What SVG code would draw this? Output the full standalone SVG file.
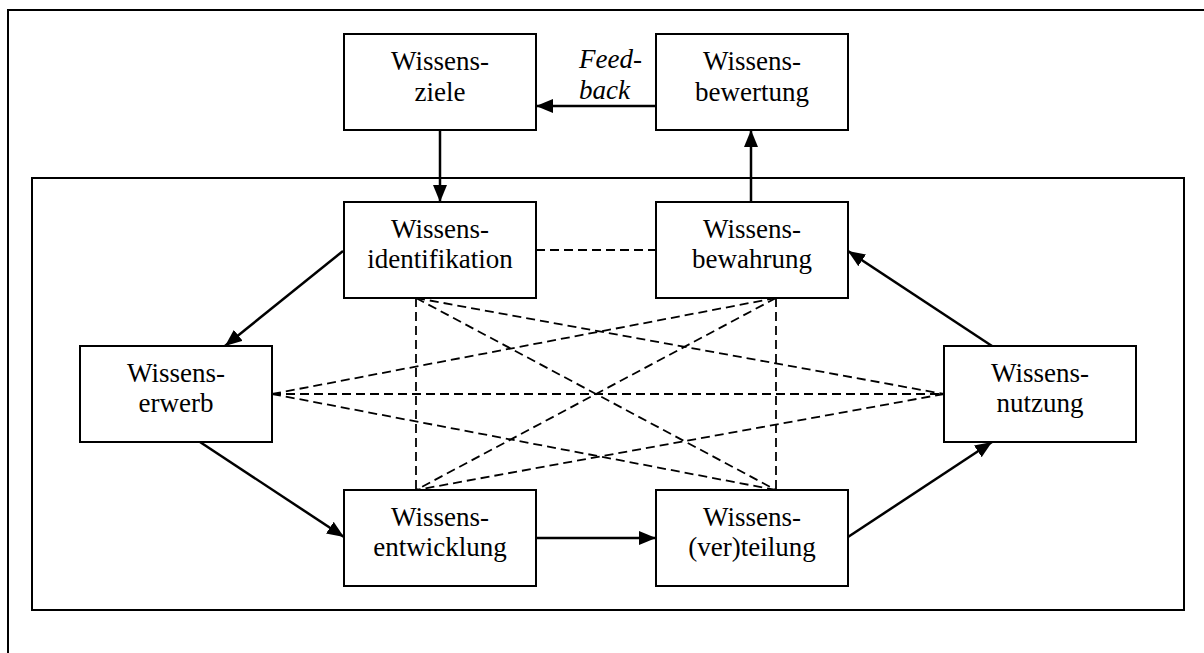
<svg xmlns="http://www.w3.org/2000/svg" width="1204" height="653" viewBox="0 0 1204 653">
  <style>
    .frame { fill: none; stroke: #000; stroke-width: 2; }
    .box { fill: #fff; stroke: #000; stroke-width: 2; }
    .label { font-family: "Liberation Serif", "Times New Roman", serif; font-size: 27px; fill: #000; text-anchor: middle; }
    .note { font-family: "Liberation Serif", "Times New Roman", serif; font-size: 27px; font-style: italic; fill: #000; }
    .flow { fill: none; stroke: #000; stroke-width: 2.5; marker-end: url(#arrow); }
    .link { fill: none; stroke: #000; stroke-width: 1.8; stroke-dasharray: 9 5; }
  </style>
  <defs>
    <marker id="arrow" markerUnits="userSpaceOnUse" markerWidth="17" markerHeight="14" refX="17" refY="7" orient="auto">
      <path d="M0,0 L17,7 L0,14 z" fill="#000"/>
    </marker>
  </defs>

  <rect width="1204" height="653" fill="#fff"/>

  <!-- frames -->
  <rect class="frame" x="8" y="10" width="1210" height="700"/>
  <rect class="frame" x="32" y="178" width="1152" height="432"/>

  <!-- connectors -->
  <g id="connectors">
    <!-- dashed cross-links -->
    <line class="link" x1="536" y1="250" x2="656" y2="250"/>
    <line class="link" x1="416" y1="298" x2="416" y2="490"/>
    <line class="link" x1="776" y1="298" x2="776" y2="490"/>
    <line class="link" x1="416" y1="298" x2="776" y2="490"/>
    <line class="link" x1="776" y1="298" x2="416" y2="490"/>
    <line class="link" x1="416" y1="298" x2="944" y2="394"/>
    <line class="link" x1="776" y1="298" x2="272" y2="394"/>
    <line class="link" x1="272" y1="394" x2="944" y2="394"/>
    <line class="link" x1="272" y1="394" x2="776" y2="490"/>
    <line class="link" x1="944" y1="394" x2="416" y2="490"/>
    <!-- solid flows -->
    <line class="flow" x1="656" y1="106" x2="536" y2="106"/>
    <line class="flow" x1="440" y1="130" x2="440" y2="202"/>
    <line class="flow" x1="751" y1="202" x2="751" y2="130"/>
    <line class="flow" x1="343" y1="251" x2="225" y2="346"/>
    <line class="flow" x1="200" y1="442" x2="344" y2="537"/>
    <line class="flow" x1="536" y1="538" x2="656" y2="538"/>
    <line class="flow" x1="848" y1="537" x2="992" y2="442"/>
    <line class="flow" x1="992" y1="346" x2="848" y2="251"/>
  </g>

  <text class="note" x="579" y="68">Feed-</text>
  <text class="note" x="579" y="99">back</text>

  <g id="ziele">
    <rect class="box" x="344" y="34" width="192" height="96"/>
    <text class="label" x="440" y="70">Wissens-</text>
    <text class="label" x="440" y="101">ziele</text>
  </g>
  <g id="bewertung">
    <rect class="box" x="656" y="34" width="192" height="96"/>
    <text class="label" x="752" y="70">Wissens-</text>
    <text class="label" x="752" y="101">bewertung</text>
  </g>
  <g id="identifikation">
    <rect class="box" x="344" y="202" width="192" height="96"/>
    <text class="label" x="440" y="238">Wissens-</text>
    <text class="label" x="440" y="268">identifikation</text>
  </g>
  <g id="bewahrung">
    <rect class="box" x="656" y="202" width="192" height="96"/>
    <text class="label" x="752" y="238">Wissens-</text>
    <text class="label" x="752" y="268">bewahrung</text>
  </g>
  <g id="erwerb">
    <rect class="box" x="80" y="346" width="192" height="96"/>
    <text class="label" x="176" y="382">Wissens-</text>
    <text class="label" x="176" y="412">erwerb</text>
  </g>
  <g id="nutzung">
    <rect class="box" x="944" y="346" width="192" height="96"/>
    <text class="label" x="1040" y="382">Wissens-</text>
    <text class="label" x="1040" y="412">nutzung</text>
  </g>
  <g id="entwicklung">
    <rect class="box" x="344" y="490" width="192" height="96"/>
    <text class="label" x="440" y="526">Wissens-</text>
    <text class="label" x="440" y="556">entwicklung</text>
  </g>
  <g id="teilung">
    <rect class="box" x="656" y="490" width="192" height="96"/>
    <text class="label" x="752" y="526">Wissens-</text>
    <text class="label" x="752" y="556">(ver)teilung</text>
  </g>
</svg>
